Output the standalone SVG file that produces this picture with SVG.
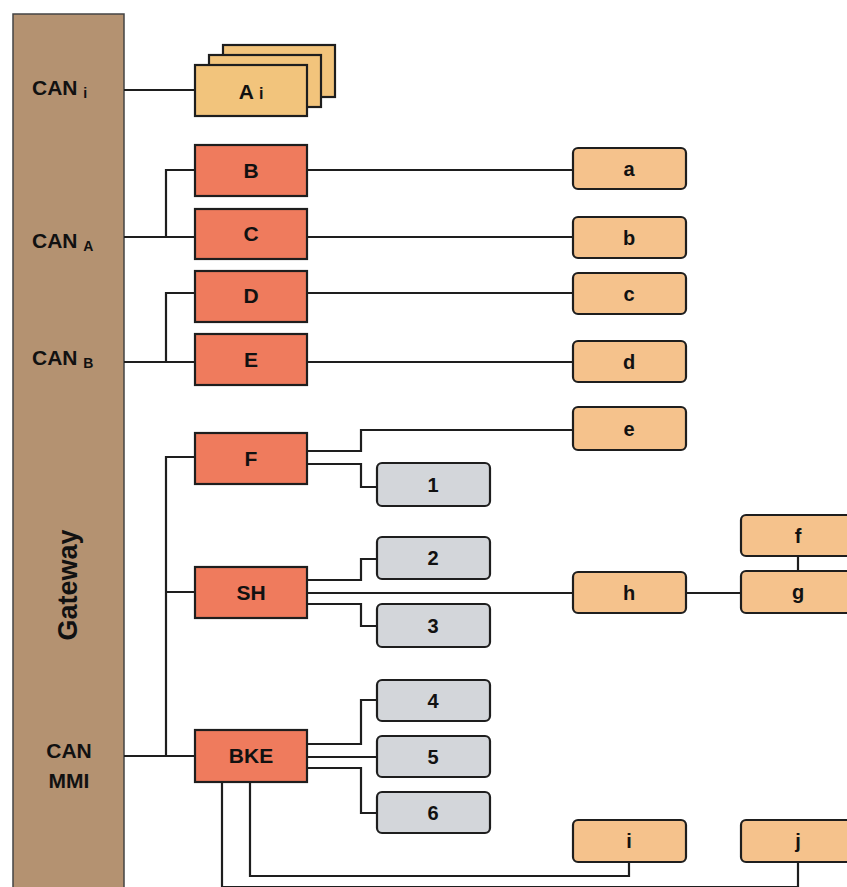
<svg xmlns="http://www.w3.org/2000/svg" width="847" height="887" viewBox="0 0 847 887">
<style>
.ln{fill:none;stroke:#1e1e1e;stroke-width:2.2}
.ecu{fill:#ef7b5d;stroke:#1e1e1e;stroke-width:2.2}
.sub{fill:#f5c28c;stroke:#1e1e1e;stroke-width:2.2}
.gry{fill:#d3d6da;stroke:#1e1e1e;stroke-width:2.2}
.ai{fill:#f2c47c;stroke:#1e1e1e;stroke-width:2.2}
text{font-family:"Liberation Sans",Arial,sans-serif;font-weight:bold;fill:#111;text-anchor:middle}
.t{font-size:21px}
.s{font-size:20px}
.lab{font-size:21px;text-anchor:start}
.sm{font-size:14px}
</style>
<rect width="847" height="887" fill="#ffffff"/>
<g id="gateway">
<rect x="13" y="14" width="111" height="880" fill="#b49271" stroke="#444" stroke-width="1.5"/>
<text class="lab" x="32" y="95">CAN <tspan class="sm" dy="3">i</tspan></text>
<text class="lab" x="32" y="248">CAN <tspan class="sm" dy="3">A</tspan></text>
<text class="lab" x="32" y="365">CAN <tspan class="sm" dy="3">B</tspan></text>
<text transform="translate(77,585) rotate(-90)" style="font-size:27px">Gateway</text>
<text class="t" x="69" y="758">CAN</text>
<text class="t" x="69" y="788">MMI</text>
</g>
<g id="connectors">
<path class="ln" d="M124 90H195"/>
<path class="ln" d="M124 237H195M166 237V170H195"/>
<path class="ln" d="M124 362H195M166 362V293H195"/>
<path class="ln" d="M307 170H573M307 237H573M307 293H573M307 362H573"/>
<path class="ln" d="M124 756H195M166 756V457H195M166 592H195"/>
<path class="ln" d="M307 451H361V430H573M307 464H361V487H377"/>
<path class="ln" d="M307 580H361V559H377M307 593H573M307 604H361V626H377M686 593H741M798 556V571"/>
<path class="ln" d="M307 744H361V700H377M307 757H377M307 768H361V813H377"/>
<path class="ln" d="M250 782V876H629V862M222 782V887H798V862"/>
</g>
<g id="node-Ai">
<rect class="ai" x="223" y="45" width="112" height="52"/>
<rect class="ai" x="209" y="55" width="112" height="52"/>
<rect class="ai" x="195" y="65" width="112" height="51"/>
<text class="t" x="251" y="99">A <tspan style="font-size:16px">i</tspan></text>
</g>
<g id="node-B"><rect class="ecu" x="195" y="145" width="112" height="51"/><text class="t" x="251" y="178">B</text></g>
<g id="node-C"><rect class="ecu" x="195" y="209" width="112" height="50"/><text class="t" x="251" y="241">C</text></g>
<g id="node-D"><rect class="ecu" x="195" y="271" width="112" height="51"/><text class="t" x="251" y="303">D</text></g>
<g id="node-E"><rect class="ecu" x="195" y="334" width="112" height="51"/><text class="t" x="251" y="367">E</text></g>
<g id="node-F"><rect class="ecu" x="195" y="433" width="112" height="51"/><text class="t" x="251" y="466">F</text></g>
<g id="node-SH"><rect class="ecu" x="195" y="567" width="112" height="51"/><text class="t" x="251" y="600">SH</text></g>
<g id="node-BKE"><rect class="ecu" x="195" y="730" width="112" height="52"/><text class="t" x="251" y="763">BKE</text></g>
<g id="node-a"><rect class="sub" x="573" y="148" width="113" height="41" rx="5"/><text class="s" x="629" y="176">a</text></g>
<g id="node-b"><rect class="sub" x="573" y="217" width="113" height="41" rx="5"/><text class="s" x="629" y="245">b</text></g>
<g id="node-c"><rect class="sub" x="573" y="273" width="113" height="41" rx="5"/><text class="s" x="629" y="301">c</text></g>
<g id="node-d"><rect class="sub" x="573" y="341" width="113" height="41" rx="5"/><text class="s" x="629" y="369">d</text></g>
<g id="node-e"><rect class="sub" x="573" y="407" width="113" height="43" rx="5"/><text class="s" x="629" y="436">e</text></g>
<g id="node-h"><rect class="sub" x="573" y="572" width="113" height="41" rx="5"/><text class="s" x="629" y="600">h</text></g>
<g id="node-f"><rect class="sub" x="741" y="515" width="120" height="41" rx="5"/><text class="s" x="798" y="543">f</text></g>
<g id="node-g"><rect class="sub" x="741" y="571" width="120" height="42" rx="5"/><text class="s" x="798" y="599">g</text></g>
<g id="node-i"><rect class="sub" x="573" y="820" width="113" height="42" rx="5"/><text class="s" x="629" y="848">i</text></g>
<g id="node-j"><rect class="sub" x="741" y="820" width="120" height="42" rx="5"/><text class="s" x="798" y="848">j</text></g>
<g id="node-1"><rect class="gry" x="377" y="463" width="113" height="43" rx="5"/><text class="s" x="433" y="492">1</text></g>
<g id="node-2"><rect class="gry" x="377" y="537" width="113" height="42" rx="5"/><text class="s" x="433" y="565">2</text></g>
<g id="node-3"><rect class="gry" x="377" y="604" width="113" height="43" rx="5"/><text class="s" x="433" y="633">3</text></g>
<g id="node-4"><rect class="gry" x="377" y="680" width="113" height="41" rx="5"/><text class="s" x="433" y="708">4</text></g>
<g id="node-5"><rect class="gry" x="377" y="736" width="113" height="41" rx="5"/><text class="s" x="433" y="764">5</text></g>
<g id="node-6"><rect class="gry" x="377" y="792" width="113" height="41" rx="5"/><text class="s" x="433" y="820">6</text></g>
</svg>
